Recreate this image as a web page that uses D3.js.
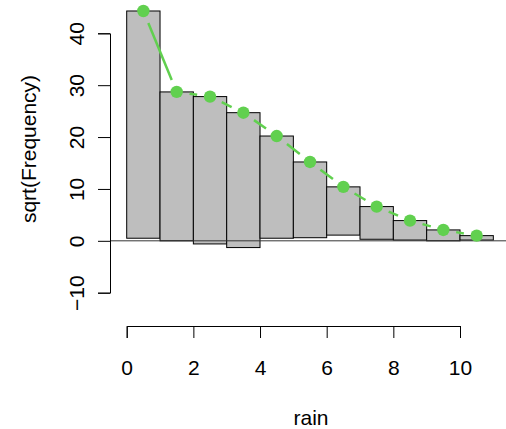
<!DOCTYPE html>
<html>
<head>
<meta charset="utf-8">
<script src="https://cdn.jsdelivr.net/npm/d3@7"></script>
<style>
  body { margin: 0; background: #fff; }
  text { font-family: "Liberation Sans", Arial, sans-serif; }
</style>
</head>
<body>
<div class="chart"></div>
<script>
var svgWidth = 506;
var svgHeight = 429;

// rain counts 0..10, square-root scale
var rainCounts = [0, 1, 2, 3, 4, 5, 6, 7, 8, 9, 10];
var expectedSqrt = [44.3, 28.7, 27.8, 24.7, 20.2, 15.2, 10.4, 6.6, 3.9, 2.1, 1.0];
var observedSqrt = [43.8, 28.7, 28.4, 26.0, 19.7, 14.6, 9.3, 6.3, 3.75, 2.1, 0.85];
var xTicks = [0, 2, 4, 6, 8, 10];
var yTicks = [-10, 0, 10, 20, 30, 40];

var fontSize = "21px";

var svg = d3.select(".chart")
  .append("svg")
  .attr("width", svgWidth)
  .attr("height", svgHeight);

var xScale = d3.scaleLinear().domain([0, 10]).range([126.7, 460]);
var yScale = d3.scaleLinear().domain([-10, 40]).range([292.7, 33.3]);

// hanging bars: top at expected, bottom at expected - observed
svg.selectAll("rect.bar")
  .data(rainCounts)
  .enter()
  .append("rect")
  .attr("class", "bar")
  .attr("x", d => xScale(d))
  .attr("width", d => xScale(d + 1) - xScale(d))
  .attr("y", (d, i) => yScale(expectedSqrt[i]))
  .attr("height", (d, i) => yScale(expectedSqrt[i] - observedSqrt[i]) - yScale(expectedSqrt[i]))
  .attr("fill", "#BEBEBE")
  .attr("stroke", "#000")
  .attr("stroke-width", 1);

// reference line at zero
svg.append("line")
  .attr("x1", 110)
  .attr("x2", svgWidth)
  .attr("y1", yScale(0))
  .attr("y2", yScale(0))
  .attr("stroke", "#333")
  .attr("stroke-width", 1);

// expected curve, type "b": segments with gaps at the points
var pts = rainCounts.map((d, i) => [xScale(d + 0.5), yScale(expectedSqrt[i])]);
var gap = 13;
for (var i = 0; i < pts.length - 1; i++) {
  var p = pts[i], q = pts[i + 1];
  var dx = q[0] - p[0], dy = q[1] - p[1];
  var len = Math.sqrt(dx * dx + dy * dy);
  if (len <= 2 * gap) continue;
  var ux = dx / len, uy = dy / len;
  svg.append("line")
    .attr("x1", p[0] + ux * gap)
    .attr("y1", p[1] + uy * gap)
    .attr("x2", q[0] - ux * gap)
    .attr("y2", q[1] - uy * gap)
    .attr("stroke", "#61D04F")
    .attr("stroke-width", 2.5);
}

svg.selectAll("circle.pt")
  .data(pts)
  .enter()
  .append("circle")
  .attr("class", "pt")
  .attr("cx", d => d[0])
  .attr("cy", d => d[1])
  .attr("r", 6.2)
  .attr("fill", "#61D04F");

// axes
var bottomAxis = d3.axisBottom(xScale).tickValues(xTicks).tickSize(12).tickFormat(d3.format("d"));
var leftAxis = d3.axisLeft(yScale).tickValues(yTicks).tickSize(12).tickFormat(d => d < 0 ? "\u2212" + Math.abs(d) : d);

var gx = svg.append("g")
  .attr("transform", "translate(0, 326)")
  .call(bottomAxis);
gx.selectAll("text")
  .attr("y", 48.5)
  .attr("dy", 0)
  .attr("fill", "#000")
  .style("font-size", fontSize);

var gy = svg.append("g")
  .attr("transform", "translate(110, 0)")
  .call(leftAxis);
gy.selectAll("text")
  .attr("x", 0)
  .attr("dy", 0)
  .attr("transform", "translate(-26.5, 0) rotate(-90)")
  .attr("text-anchor", "middle")
  .attr("fill", "#000")
  .style("font-size", fontSize);

svg.selectAll(".domain, .tick line").attr("stroke", "#000");

// axis titles
svg.append("text")
  .attr("x", 311)
  .attr("y", 425)
  .attr("text-anchor", "middle")
  .style("font-size", fontSize)
  .text("rain");

svg.append("text")
  .attr("transform", "translate(36, 149) rotate(-90)")
  .attr("text-anchor", "middle")
  .style("font-size", fontSize)
  .text("sqrt(Frequency)");
</script>
</body>
</html>
